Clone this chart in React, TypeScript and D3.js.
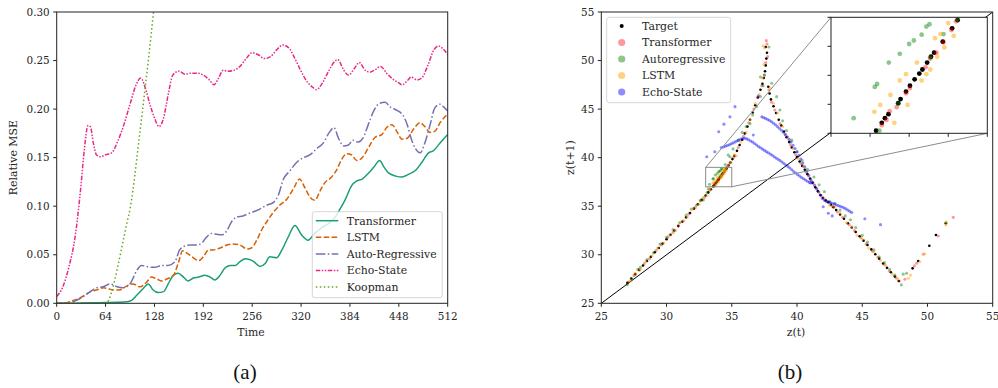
import React from 'react';
import * as d3 from 'd3';

type P = [number, number];

// ---------------- panel (a): relative MSE over time ----------------
const timeTicks = [0, 64, 128, 192, 256, 320, 384, 448, 512];
const mseTicks = [0, 0.05, 0.1, 0.15, 0.2, 0.25, 0.3];

const transformerMSE: P[] = [
  [0, 0], [16, 0], [32, 0.0003], [48, 0.0005], [64, 0.0008], [80, 0.001], [92, 0.0015], [98, 0.003],
  [105, 0.0085], [113, 0.015], [120, 0.02], [126, 0.014], [133, 0.011], [140, 0.012], [146, 0.02],
  [153, 0.029], [159, 0.031], [166, 0.027], [172, 0.023], [179, 0.026], [186, 0.027], [194, 0.029],
  [201, 0.027], [207, 0.024], [214, 0.029], [220, 0.036], [227, 0.039], [234, 0.039], [240, 0.043],
  [247, 0.046], [253, 0.045], [258, 0.043], [266, 0.038], [273, 0.041], [279, 0.048], [288, 0.047],
  [295, 0.055], [303, 0.068], [312, 0.08], [321, 0.07], [329, 0.065], [338, 0.072], [347, 0.078],
  [356, 0.082], [365, 0.089], [371, 0.097], [378, 0.107], [386, 0.121], [393, 0.126], [400, 0.128],
  [407, 0.133], [415, 0.14], [423, 0.147], [428, 0.141], [435, 0.134], [444, 0.131], [452, 0.13],
  [461, 0.133], [470, 0.137], [478, 0.145], [487, 0.155], [493, 0.157], [502, 0.165], [512, 0.174],
];
const lstmMSE: P[] = [
  [0, 0], [10, 0], [18, 0.002], [26, 0.004], [35, 0.0075], [44, 0.012], [52, 0.0136], [61, 0.016],
  [68, 0.015], [74, 0.0136], [83, 0.014], [92, 0.018], [100, 0.02], [109, 0.017], [118, 0.022],
  [124, 0.027], [131, 0.025], [138, 0.023], [144, 0.025], [153, 0.029], [159, 0.041], [165, 0.054],
  [170, 0.052], [177, 0.048], [186, 0.044], [192, 0.048], [199, 0.055], [205, 0.055], [214, 0.057],
  [223, 0.06], [231, 0.061], [240, 0.06], [249, 0.056], [255, 0.057], [262, 0.065], [268, 0.075],
  [275, 0.084], [284, 0.094], [292, 0.101], [301, 0.107], [310, 0.118], [318, 0.128], [325, 0.119],
  [332, 0.109], [338, 0.106], [345, 0.116], [351, 0.124], [360, 0.13], [367, 0.138], [373, 0.148],
  [380, 0.154], [386, 0.153], [393, 0.147], [400, 0.15], [408, 0.16], [417, 0.171], [426, 0.174],
  [432, 0.181], [439, 0.184], [446, 0.176], [452, 0.169], [459, 0.17], [467, 0.179], [476, 0.186],
  [482, 0.182], [489, 0.176], [495, 0.177], [502, 0.186], [512, 0.195],
];
const arMSE: P[] = [
  [0, 0], [16, 0.0005], [26, 0.003], [35, 0.007], [44, 0.012], [52, 0.016], [61, 0.017], [70, 0.02],
  [79, 0.017], [87, 0.016], [96, 0.02], [105, 0.034], [111, 0.039], [120, 0.0375], [129, 0.037],
  [137, 0.039], [146, 0.039], [155, 0.043], [161, 0.055], [168, 0.059], [175, 0.06], [183, 0.06],
  [190, 0.062], [196, 0.068], [203, 0.072], [210, 0.071], [216, 0.0705], [223, 0.075], [229, 0.084],
  [236, 0.089], [244, 0.09], [250, 0.092], [257, 0.094], [266, 0.097], [275, 0.101], [284, 0.104],
  [290, 0.111], [297, 0.128], [305, 0.136], [314, 0.145], [323, 0.15], [332, 0.153], [340, 0.159],
  [349, 0.165], [357, 0.176], [363, 0.181], [369, 0.17], [376, 0.162], [382, 0.163], [388, 0.168],
  [395, 0.166], [401, 0.17], [408, 0.184], [415, 0.198], [423, 0.206], [430, 0.207], [437, 0.202],
  [445, 0.199], [453, 0.194], [459, 0.184], [464, 0.17], [470, 0.159], [476, 0.155], [482, 0.165],
  [489, 0.184], [495, 0.201], [502, 0.205], [507, 0.202], [512, 0.198],
];
const esnMSE: P[] = [
  [0, 0.007], [8, 0.017], [16, 0.0375], [24, 0.068], [32, 0.123], [36, 0.157], [41, 0.183], [44, 0.182],
  [48, 0.165], [52, 0.153], [57, 0.151], [64, 0.153], [72, 0.155], [80, 0.167], [88, 0.184], [96, 0.205],
  [104, 0.225], [110, 0.232], [116, 0.222], [122, 0.205], [128, 0.191], [134, 0.182], [140, 0.191],
  [146, 0.215], [152, 0.235], [160, 0.239], [168, 0.236], [176, 0.237], [184, 0.237], [192, 0.235],
  [200, 0.23], [206, 0.225], [212, 0.232], [218, 0.24], [224, 0.239], [232, 0.24], [240, 0.244],
  [248, 0.252], [256, 0.258], [264, 0.256], [272, 0.252], [280, 0.254], [288, 0.261], [296, 0.266],
  [304, 0.263], [312, 0.252], [320, 0.239], [328, 0.228], [336, 0.222], [340, 0.22], [348, 0.227],
  [356, 0.239], [364, 0.249], [368, 0.251], [376, 0.24], [382, 0.235], [390, 0.242], [396, 0.248],
  [404, 0.24], [410, 0.238], [418, 0.241], [424, 0.244], [432, 0.237], [440, 0.231], [448, 0.227],
  [452, 0.225], [460, 0.23], [464, 0.233], [472, 0.23], [478, 0.232], [486, 0.245], [494, 0.261],
  [500, 0.265], [506, 0.262], [512, 0.256],
];
const koopmanMSE: P[] = [
  [0, 0], [32, 0], [64, 0], [68, 0.003], [72, 0.012], [76, 0.024], [80, 0.038], [84, 0.053], [88, 0.068],
  [92, 0.083], [96, 0.097], [100, 0.117], [104, 0.143], [108, 0.17], [112, 0.196], [116, 0.223],
  [120, 0.25], [124, 0.279], [128, 0.31],
];

// ---------------- panel (b): z(t+1) vs z(t) ----------------
const zTicks = [25, 30, 35, 40, 45, 50, 55];
const insetXTicks = [33, 33.5, 34, 34.5, 35];
const insetYTicks = [37, 37.5, 38, 38.5, 39];

const zTarget: P[] = [
  [27.0, 27.1], [27.3, 27.55], [27.6, 28.0], [27.9, 28.45], [28.2, 28.9], [28.5, 29.35], [28.8, 29.8],
  [29.1, 30.25], [29.4, 30.7], [29.7, 31.15], [30.0, 31.6], [30.3, 32.05], [30.6, 32.5], [30.9, 32.95],
  [31.2, 33.4], [31.5, 33.85], [31.8, 34.3], [32.1, 34.75], [32.4, 35.2], [32.7, 35.65], [33.0, 36.1],
  [33.2, 36.42], [33.4, 36.75],
  [33.577, 37.045], [33.65, 37.18], [33.69, 37.26], [33.735, 37.33], [33.86, 37.52], [33.89, 37.59],
  [33.96, 37.72], [34.01, 37.82], [34.07, 37.93], [34.13, 38.03], [34.17, 38.1], [34.23, 38.22],
  [34.28, 38.32], [34.32, 38.39], [34.43, 38.58], [34.55, 38.81], [34.62, 38.95],
  [34.75, 39.2], [34.9, 39.5], [35.05, 39.85], [35.2, 40.2], [35.4, 40.7], [35.6, 41.3], [35.8, 41.85],
  [36.0, 42.5], [36.2, 43.2], [36.4, 43.9], [36.6, 44.65], [36.8, 45.4], [37.0, 46.2], [37.2, 47.0],
  [37.35, 47.6], [37.45, 48.2], [37.55, 48.9], [37.6, 49.5], [37.65, 50.2], [37.7, 50.8], [37.6, 51.4],
  [37.8, 47.3], [37.9, 46.6], [38.0, 46.0], [38.2, 45.3], [38.4, 44.6], [38.6, 43.9], [38.8, 43.3],
  [39.0, 42.7], [39.2, 42.1], [39.4, 41.6], [39.6, 41.05], [39.8, 40.55], [40.0, 40.05], [40.2, 39.6],
  [40.4, 39.15], [40.6, 38.75], [40.8, 38.3], [41.0, 37.85], [41.2, 37.4], [41.4, 36.95], [41.6, 36.55],
  [41.8, 36.15], [42.0, 35.85], [42.2, 35.6], [42.4, 35.4], [42.6, 35.15], [42.8, 34.9], [43.0, 34.6],
  [43.3, 34.15], [43.6, 33.7], [43.9, 33.25], [44.2, 32.8], [44.5, 32.35], [44.8, 31.9], [45.1, 31.45],
  [45.4, 31.0], [45.7, 30.55], [46.0, 30.05], [46.3, 29.6], [46.6, 29.1], [46.9, 28.65], [47.2, 28.2],
  [47.5, 27.75], [47.8, 27.3],
  [48.86, 28.6], [49.29, 29.36], [50.14, 30.93], [50.65, 32.03], [51.41, 33.24],
];
const zTransformer: P[] = [
  [27.1, 27.2], [27.5, 27.85], [27.9, 28.4], [28.3, 29.1], [28.7, 29.6], [29.2, 30.45], [29.6, 31.0],
  [30.1, 31.8], [30.5, 32.3], [30.9, 33.0], [31.3, 33.5], [31.7, 34.2], [32.2, 34.85], [32.6, 35.55],
  [32.9, 35.9], [33.3, 36.65],
  [33.65, 37.14], [33.71, 37.23], [33.75, 37.38], [33.84, 37.45], [33.96, 37.69], [34.01, 37.78],
  [34.21, 38.14], [34.27, 38.29], [34.35, 38.39], [34.44, 38.57], [34.54, 38.78], [34.6, 38.93],
  [34.85, 39.45], [35.15, 40.05], [35.5, 41.05], [35.9, 42.2], [36.3, 43.6], [36.7, 45.0], [37.0, 46.2],
  [37.3, 47.4], [37.5, 48.5], [37.6, 49.8], [37.75, 50.4], [37.7, 51.7], [37.65, 52.05],
  [37.85, 47.0], [38.05, 45.7], [38.3, 44.9], [38.7, 43.5], [39.1, 42.35], [39.5, 41.3], [39.9, 40.3],
  [40.3, 39.4], [40.7, 38.5], [41.1, 37.6], [41.5, 36.8], [41.9, 36.0], [42.3, 35.5], [42.7, 35.0],
  [43.1, 34.4], [43.5, 33.85], [44.0, 33.1], [44.4, 32.5], [44.9, 31.75], [45.3, 31.1], [45.8, 30.35],
  [46.2, 29.75], [46.7, 29.0], [47.1, 28.3], [47.6, 27.6], [47.84, 27.3],
  [48.27, 27.47], [49.0, 28.85], [49.17, 29.12], [49.68, 30.05], [50.83, 31.93], [51.98, 33.85],
];
const zAutoregressive: P[] = [
  [27.0, 26.9], [27.3, 27.5], [27.8, 28.5], [28.0, 28.7], [28.5, 29.5], [29.0, 30.2], [29.5, 31.1],
  [30.0, 31.8], [30.5, 32.6], [31.0, 33.3], [31.5, 34.1], [31.9, 34.7], [32.3, 35.1], [32.6, 35.6],
  [32.82, 35.64], [33.1, 36.4], [33.2, 36.8],
  [33.29, 37.26], [33.56, 37.8], [33.59, 37.85], [33.74, 38.22], [33.88, 38.37], [34.0, 38.54],
  [34.06, 38.6], [34.16, 38.7], [34.22, 38.84], [34.26, 38.88], [33.62, 37.045], [33.86, 37.51],
  [34.27, 38.31], [34.44, 38.71], [34.62, 38.96],
  [34.5, 39.3], [34.73, 40.27], [34.86, 40.1], [35.1, 40.9], [35.5, 41.8], [35.8, 42.6], [36.1, 43.2],
  [36.4, 43.5], [36.6, 44.4], [36.9, 45.25], [37.2, 46.3], [37.4, 47.4], [37.5, 48.5], [37.2, 48.3],
  [37.85, 51.4], [38.06, 47.66], [38.44, 46.28], [38.69, 44.9], [38.9, 43.8], [39.2, 42.8], [39.6, 41.8],
  [40.0, 40.6], [40.4, 39.7], [40.8, 38.8], [41.3, 38.0], [41.7, 37.2], [42.1, 36.5], [42.5, 35.5],
  [42.9, 35.3], [43.3, 34.6], [43.7, 34.0], [44.1, 33.6], [44.5, 32.8], [45.0, 32.0], [45.4, 31.3],
  [45.9, 30.5], [46.3, 29.8], [46.7, 29.2], [47.1, 28.5], [47.5, 27.9], [48.0, 26.9], [48.14, 28.0],
  [48.4, 28.1], [51.41, 33.3],
];
const zLSTM: P[] = [
  [27.2, 27.3], [27.6, 28.1], [28.0, 28.5], [28.4, 29.3], [28.9, 29.9], [29.3, 30.7], [29.8, 31.2],
  [30.2, 32.0], [30.7, 32.5], [31.1, 33.4], [31.6, 33.9], [32.0, 34.7], [32.5, 35.2], [32.8, 35.9],
  [33.1, 36.1], [33.35, 36.8],
  [33.555, 37.37], [33.63, 37.49], [33.76, 37.66], [33.81, 37.18], [33.88, 37.91], [33.96, 38.02],
  [33.98, 37.49], [34.1, 38.22], [34.16, 37.91], [34.22, 38.02], [34.27, 38.1], [34.33, 38.64],
  [34.36, 38.32], [34.4, 38.71], [34.45, 38.48], [34.5, 38.9], [34.57, 38.68],
  [34.7, 39.2], [34.95, 39.5], [35.2, 40.3], [35.35, 40.2], [35.7, 41.6], [36.1, 42.6], [36.4, 43.9],
  [36.8, 45.6], [37.1, 46.5], [37.35, 48.2], [37.45, 49.6], [37.5, 51.3], [37.41, 51.53],
  [37.95, 47.2], [38.2, 45.6], [38.5, 44.6], [38.9, 43.2], [39.3, 42.0], [39.7, 40.95], [40.1, 39.9],
  [40.5, 39.1], [40.9, 38.1], [41.3, 37.3], [41.7, 36.4], [42.1, 35.8], [42.5, 35.1], [42.9, 34.9],
  [43.3, 34.3], [43.8, 33.3], [44.2, 32.9], [44.6, 32.0], [45.0, 31.6], [45.5, 30.7], [45.9, 30.3],
  [46.4, 29.4], [46.8, 28.9], [47.3, 28.0], [47.7, 27.55],
  [48.53, 27.57], [48.7, 27.9], [49.42, 29.28], [49.8, 30.1], [51.41, 33.07], [51.45, 33.4],
];
const zEchoState: P[] = [
  [34.2, 41.05], [34.35, 41.1], [34.5, 41.18], [34.65, 41.25], [34.8, 41.33], [34.95, 41.42], [35.1, 41.52],
  [35.25, 41.62], [35.4, 41.72], [35.55, 41.82], [35.7, 41.92], [35.85, 42.0], [36.0, 42.0], [36.15, 41.93],
  [36.3, 41.85], [36.45, 41.72], [36.6, 41.6], [36.75, 41.45], [36.9, 41.3], [37.05, 41.15], [37.2, 41.02],
  [37.35, 40.88], [37.5, 40.75], [37.65, 40.62], [37.8, 40.5], [37.95, 40.37], [38.1, 40.25], [38.25, 40.1],
  [38.4, 39.97], [38.55, 39.83], [38.7, 39.7], [38.85, 39.55], [39.0, 39.4], [39.15, 39.25], [39.3, 39.1],
  [39.45, 38.93], [39.6, 38.75], [39.75, 38.58], [39.9, 38.42], [40.05, 38.25], [40.2, 38.1], [40.35, 37.95],
  [40.5, 37.82], [40.65, 37.7], [40.8, 37.57], [40.95, 37.45], [41.05, 37.4],
  [37.3, 44.2], [37.45, 44.12], [37.6, 44.03], [37.75, 43.93], [37.9, 43.82], [38.05, 43.7], [38.2, 43.55],
  [38.35, 43.38], [38.5, 43.2], [38.65, 43.02], [38.8, 42.82], [38.95, 42.62], [39.1, 42.4], [39.25, 42.15],
  [39.4, 41.88], [39.55, 41.6], [39.7, 41.28], [39.85, 40.95], [40.0, 40.6], [40.15, 40.25], [40.3, 39.85],
  [40.45, 39.45], [40.6, 39.05], [40.75, 38.6], [40.9, 38.17], [41.05, 37.75], [41.2, 37.45], [41.35, 37.15],
  [41.5, 36.82], [41.65, 36.48], [41.8, 36.12], [41.95, 35.8], [42.1, 35.6], [42.25, 35.5], [42.4, 35.43],
  [42.55, 35.37], [42.7, 35.3], [42.85, 35.23], [43.0, 35.15], [43.15, 35.07], [43.3, 35.0], [43.45, 34.92],
  [43.6, 34.83], [43.75, 34.72], [43.9, 34.6], [44.05, 34.47], [44.2, 34.35],
  [35.25, 45.25], [34.86, 44.2], [34.4, 43.45], [34.0, 42.67], [33.7, 40.6], [33.08, 40.1], [36.65, 42.33],
  [37.03, 46.35], [42.01, 34.95], [42.4, 34.27], [42.7, 34.0], [45.2, 33.7], [46.4, 33.1],
];

const mseSeries = [
  { name: 'Transformer', data: transformerMSE, color: '#1b9e77', dash: '' },
  { name: 'LSTM', data: lstmMSE, color: '#d95f02', dash: '5.5,2.4' },
  { name: 'Auto-Regressive', data: arMSE, color: '#7570b3', dash: '9.6,2.4,1.5,2.4' },
  { name: 'Echo-State', data: esnMSE, color: '#e7298a', dash: '4.5,1.5,1.5,1.5,1.5,1.5' },
  { name: 'Koopman', data: koopmanMSE, color: '#66a61e', dash: '1.5,2.5' },
];

const scatterSeries = [
  { name: 'Target', data: zTarget, color: '#000000', opacity: 1 },
  { name: 'Transformer', data: zTransformer, color: '#ff0000', opacity: 0.4 },
  { name: 'Autoregressive', data: zAutoregressive, color: '#008000', opacity: 0.45 },
  { name: 'LSTM', data: zLSTM, color: '#ffa500', opacity: 0.5 },
  { name: 'Echo-State', data: zEchoState, color: '#0000ff', opacity: 0.45 },
];

const FONT = 'DejaVu Serif';
const TXT = '#262626';
const TICK_FS = 10.4;
const LABEL_FS = 10.9;

export default function App() {
  const W = 998;
  const H = 388;
  // panel (a)
  const aX = d3.scaleLinear().domain([0, 512]).range([56.7, 447.7]);
  const aY = d3.scaleLinear().domain([0, 0.3]).range([303.3, 12]);
  const line = d3
    .line<P>()
    .x((d) => aX(d[0]))
    .y((d) => aY(d[1]))
    .curve(d3.curveMonotoneX);
  // panel (b)
  const bX = d3.scaleLinear().domain([25, 55]).range([601.3, 992.7]);
  const bY = d3.scaleLinear().domain([25, 55]).range([303.3, 12]);
  // inset
  const iX = d3.scaleLinear().domain([33, 35]).range([831, 987.3]);
  const iY = d3.scaleLinear().domain([37, 39]).range([133.3, 17.3]);

  const [ax0, ax1] = aX.range();
  const [ay1, ay0] = aY.range();
  const [bx0, bx1] = bX.range();
  const [by1, by0] = bY.range();
  const [ix0, ix1] = iX.range();
  const [iy1, iy0] = iY.range();

  const legA = { x: 312.3, y: 211.7, w: 130, h: 86, dy: 16.6 };
  const legB = { x: 606.7, y: 17.3, w: 124, h: 85.4, dy: 16.5 };

  return (
    <svg
      width={W}
      height={H}
      style={{ position: 'absolute', left: 0, top: 0, background: '#fff' }}
      fontFamily={FONT}
    >
      <defs>
        <clipPath id="clipA">
          <rect x={ax0} y={ay0} width={ax1 - ax0} height={ay1 - ay0} />
        </clipPath>
        <clipPath id="clipB">
          <rect x={bx0} y={by0} width={bx1 - bx0} height={by1 - by0} />
        </clipPath>
        <clipPath id="clipI">
          <rect x={ix0} y={iy0} width={ix1 - ix0} height={iy1 - iy0} />
        </clipPath>
      </defs>
      <rect x={0} y={0} width={W} height={H} fill="#fff" />

      {/* ---------- panel (a) ---------- */}
      <g clipPath="url(#clipA)">
        {mseSeries.map((s) => (
          <path
            key={s.name}
            d={line(s.data) || ''}
            fill="none"
            stroke={s.color}
            strokeWidth={1.5}
            strokeDasharray={s.dash || undefined}
          />
        ))}
      </g>
      <rect x={ax0} y={ay0} width={ax1 - ax0} height={ay1 - ay0} fill="none" stroke="#222" strokeWidth={1} />
      {timeTicks.map((t) => (
        <g key={'at' + t}>
          <line x1={aX(t)} x2={aX(t)} y1={ay1} y2={ay1 + 3.5} stroke="#222" />
          <text x={aX(t)} y={319.8} fontSize={TICK_FS} textAnchor="middle" fill={TXT}>
            {t}
          </text>
        </g>
      ))}
      {mseTicks.map((v) => (
        <g key={'am' + v}>
          <line x1={ax0 - 3.5} x2={ax0} y1={aY(v)} y2={aY(v)} stroke="#222" />
          <text x={ax0 - 7} y={aY(v) + 3.7} fontSize={TICK_FS} textAnchor="end" fill={TXT}>
            {v.toFixed(2)}
          </text>
        </g>
      ))}
      <text x={251} y={335.5} fontSize={LABEL_FS} textAnchor="middle" fill={TXT}>
        Time
      </text>
      <text
        transform={`translate(16.5,${(ay0 + ay1) / 2}) rotate(-90)`}
        fontSize={LABEL_FS}
        textAnchor="middle"
        fill={TXT}
      >
        Relative MSE
      </text>
      {/* legend (a) */}
      <rect
        x={legA.x}
        y={legA.y}
        width={legA.w}
        height={legA.h}
        rx={2.5}
        fill="#fff"
        fillOpacity={0.8}
        stroke="#cccccc"
        strokeWidth={0.8}
      />
      {mseSeries.map((s, i) => {
        const y = legA.y + 9 + i * legA.dy;
        return (
          <g key={'la' + s.name}>
            <line
              x1={legA.x + 3.5}
              x2={legA.x + 26}
              y1={y}
              y2={y}
              stroke={s.color}
              strokeWidth={1.5}
              strokeDasharray={s.dash || undefined}
            />
            <text x={legA.x + 34.4} y={y + 3.8} fontSize={LABEL_FS} fill={TXT}>
              {s.name}
            </text>
          </g>
        );
      })}
      <text x={245} y={379} fontSize={21} textAnchor="middle" fill="#111" fontFamily="Liberation Serif">
        (a)
      </text>

      {/* ---------- panel (b) ---------- */}
      <g clipPath="url(#clipB)">
        <line x1={bX(25)} y1={bY(25)} x2={bX(55)} y2={bY(55)} stroke="#000" strokeWidth={1} />
        {scatterSeries.map((s) => (
          <g key={'sb' + s.name} fill={s.color} fillOpacity={s.opacity}>
            {s.data.map((d, j) => (
              <circle key={j} cx={bX(d[0])} cy={bY(d[1])} r={s.name === 'Target' ? 1.3 : 1.55} />
            ))}
          </g>
        ))}
      </g>
      {/* zoom rectangle and connectors */}
      <rect
        x={bX(33)}
        y={bY(39)}
        width={bX(35) - bX(33)}
        height={bY(37) - bY(39)}
        fill="none"
        stroke="#8c8c8c"
        strokeWidth={1}
      />
      <line x1={bX(33)} y1={bY(39)} x2={ix0} y2={iy0} stroke="#8c8c8c" strokeWidth={1} />
      <line x1={bX(35)} y1={bY(37)} x2={ix1} y2={iy1} stroke="#8c8c8c" strokeWidth={1} />
      <rect x={bx0} y={by0} width={bx1 - bx0} height={by1 - by0} fill="none" stroke="#222" strokeWidth={1} />
      {zTicks.map((t) => (
        <g key={'bt' + t}>
          <line x1={bX(t)} x2={bX(t)} y1={by1} y2={by1 + 3.5} stroke="#222" />
          <text x={bX(t)} y={319.8} fontSize={TICK_FS} textAnchor="middle" fill={TXT}>
            {t}
          </text>
          <line x1={bx0 - 3.5} x2={bx0} y1={bY(t)} y2={bY(t)} stroke="#222" />
          <text x={bx0 - 7} y={bY(t) + 3.7} fontSize={TICK_FS} textAnchor="end" fill={TXT}>
            {t}
          </text>
        </g>
      ))}
      <text x={796} y={335.5} fontSize={LABEL_FS} textAnchor="middle" fill={TXT}>
        z(t)
      </text>
      <text
        transform={`translate(573.5,${(by0 + by1) / 2}) rotate(-90)`}
        fontSize={LABEL_FS}
        textAnchor="middle"
        fill={TXT}
      >
        z(t+1)
      </text>

      {/* inset */}
      <rect x={ix0} y={iy0} width={ix1 - ix0} height={iy1 - iy0} fill="#fff" />
      <g clipPath="url(#clipI)">
        {scatterSeries.map((s) => (
          <g key={'si' + s.name} fill={s.color} fillOpacity={s.opacity}>
            {s.data
              .filter((d) => d[0] >= 32.9 && d[0] <= 35.1 && d[1] >= 36.9 && d[1] <= 39.1)
              .map((d, j) => (
                <circle key={j} cx={iX(d[0])} cy={iY(d[1])} r={2.4} />
              ))}
          </g>
        ))}
      </g>
      <rect x={ix0} y={iy0} width={ix1 - ix0} height={iy1 - iy0} fill="none" stroke="#222" strokeWidth={1} />
      {insetXTicks.map((t) => (
        <line key={'ix' + t} x1={iX(t)} x2={iX(t)} y1={iy1} y2={iy1 + 3.5} stroke="#222" />
      ))}
      {insetYTicks.map((t) => (
        <line key={'iy' + t} x1={ix0 - 3.5} x2={ix0} y1={iY(t)} y2={iY(t)} stroke="#222" />
      ))}

      {/* legend (b) */}
      <rect
        x={legB.x}
        y={legB.y}
        width={legB.w}
        height={legB.h}
        rx={2.5}
        fill="#fff"
        fillOpacity={0.8}
        stroke="#cccccc"
        strokeWidth={0.8}
      />
      {scatterSeries.map((s, i) => {
        const y = legB.y + 8.7 + i * legB.dy;
        return (
          <g key={'lb' + s.name}>
            <circle
              cx={legB.x + 15}
              cy={y}
              r={s.name === 'Target' ? 2 : 3.6}
              fill={s.color}
              fillOpacity={s.opacity}
            />
            <text x={legB.x + 35.3} y={y + 3.8} fontSize={LABEL_FS} fill={TXT}>
              {s.name}
            </text>
          </g>
        );
      })}
      <text x={790} y={379} fontSize={21} textAnchor="middle" fill="#111" fontFamily="Liberation Serif">
        (b)
      </text>
    </svg>
  );
}
